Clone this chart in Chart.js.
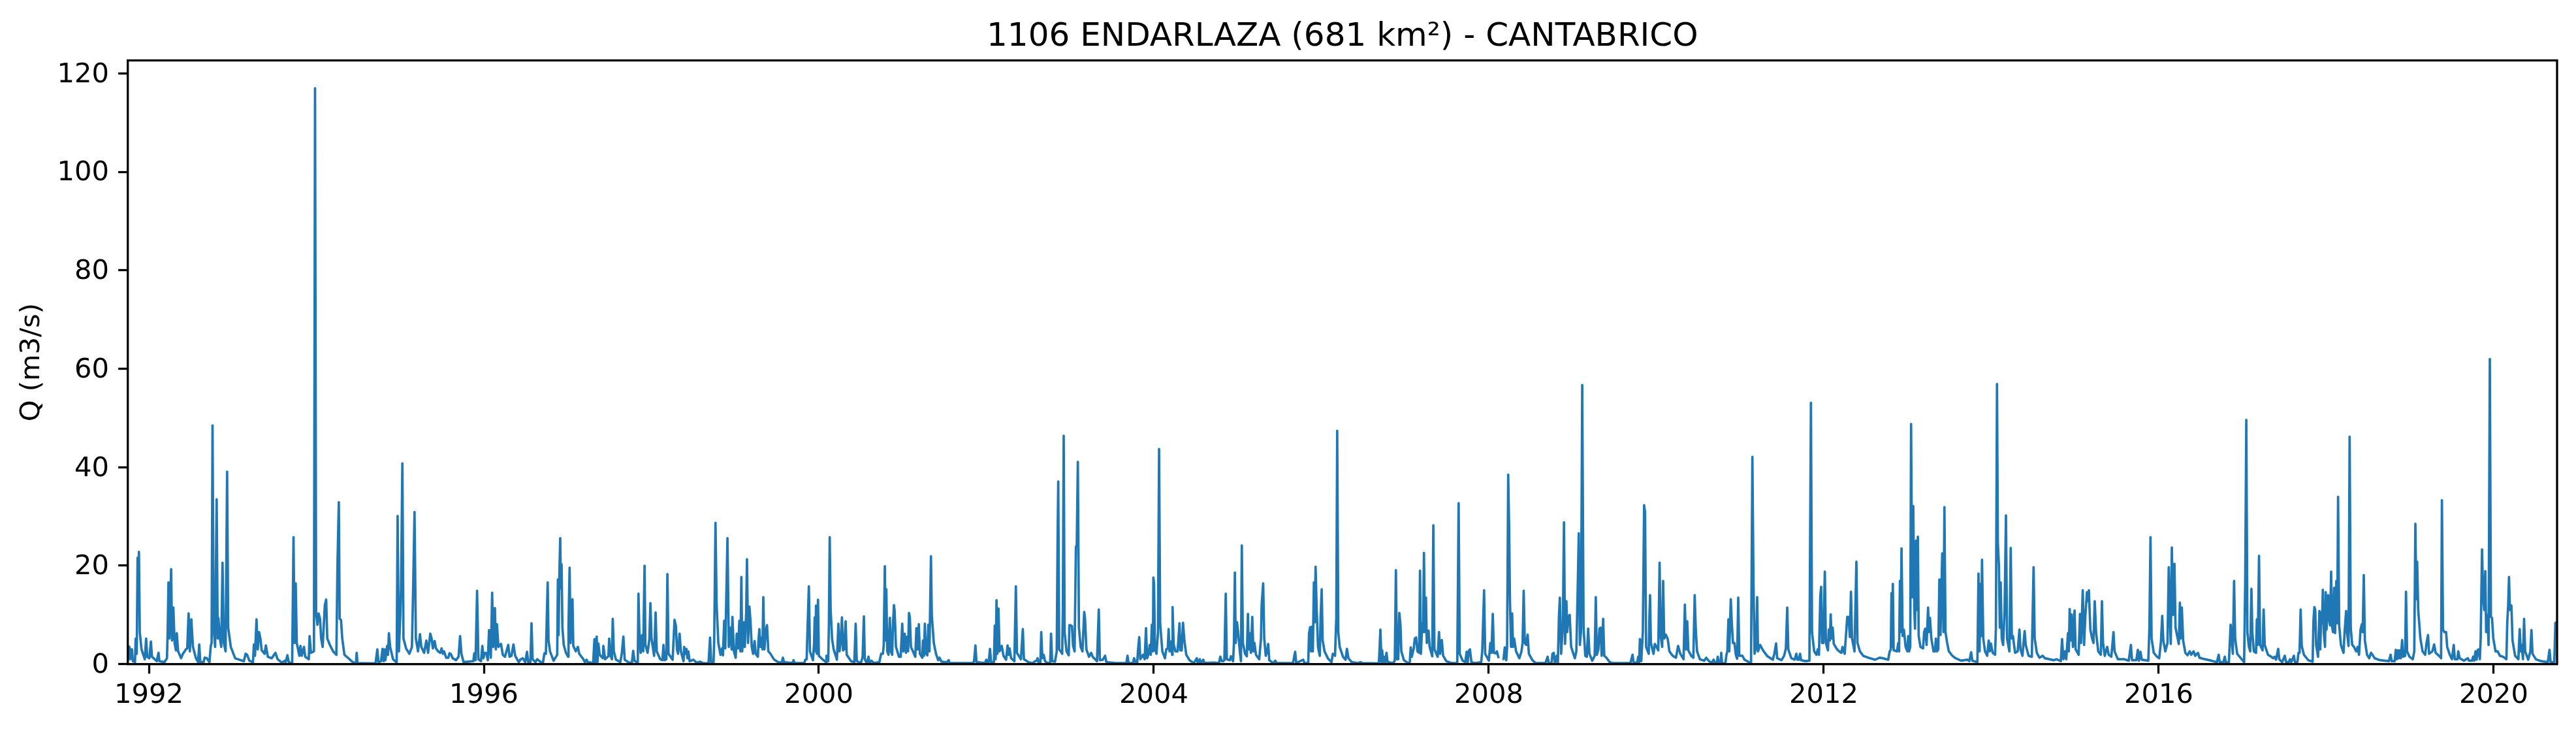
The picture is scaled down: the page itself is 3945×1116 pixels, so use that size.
<!DOCTYPE html>
<html>
<head>
<meta charset="utf-8">
<title>1106 ENDARLAZA</title>
<script src="https://cdn.jsdelivr.net/npm/chart.js@4"></script>
<style>
  html, body { margin: 0; background: #fff; }
  canvas { display: block; }
</style>
</head>
<body>
<canvas id="flowChart" width="3945" height="1116"></canvas>
<script>
// ===== Data (decimal years, m3/s) =====
const dates1 = [1991.748,1991.761,1991.769,1991.777,1991.785,1991.798,1991.808,1991.834,1991.842,1991.855,1991.865,1991.873,1991.881,1991.891,1991.912,1991.951,1991.967,1991.980,1992.006,1992.024,1992.037,1992.094,1992.115,1992.125,1992.185,1992.216,1992.224,1992.234,1992.245,1992.266,1992.276,1992.292,1992.307,1992.323,1992.333,1992.349,1992.385,1992.406,1992.427,1992.442,1992.458,1992.474,1992.489,1992.507,1992.526,1992.562,1992.588,1992.601,1992.614,1992.653,1992.666,1992.692,1992.723,1992.739,1992.749,1992.760,1992.773,1992.791,1992.809,1992.822,1992.830,1992.848,1992.864,1992.879,1992.895,1992.916,1992.934,1992.947,1992.978,1993.030,1993.134,1993.155,1993.173,1993.199,1993.243,1993.254,1993.267,1993.285,1993.300,1993.316,1993.332,1993.347,1993.381,1993.397,1993.420,1993.467,1993.511,1993.537,1993.589,1993.623,1993.633,1993.654,1993.670,1993.711,1993.727,1993.740,1993.753,1993.766,1993.797,1993.810,1993.826,1993.852,1993.867,1993.909,1993.919,1993.935,1993.971,1993.984,1993.997,1994.013,1994.026,1994.044,1994.057,1994.075,1994.101,1994.117,1994.130,1994.161,1994.200,1994.239,1994.252,1994.268,1994.278,1994.294,1994.309,1994.335,1994.382,1994.434,1994.473,1994.481,1994.491,1994.707,1994.728,1994.741,1994.772,1994.790,1994.803,1994.814,1994.824,1994.845,1994.855,1994.866,1994.881,1994.915,1994.959,1994.970,1994.985,1995.001,1995.011,1995.027,1995.040,1995.071,1995.110,1995.141,1995.154,1995.172,1995.188,1995.214,1995.237,1995.253,1995.287,1995.313,1995.334];
const flow1 = [0.6,3.6,3.4,1.0,3.0,3.0,0.6,0.4,5.2,2.1,21.6,14,22.8,6.5,3,1,5.2,1.5,1.2,4.6,1.5,0.6,2.3,0.6,0.4,1.2,6.5,16.6,5.2,19.3,4.8,11.5,4.3,2.8,6.3,2.6,1.2,2.1,2.6,3,3.2,10.3,2.6,9.1,3.5,1.2,0.4,4,0.4,0.4,1.3,1.2,0.4,3.7,4.3,48.5,7.4,3.5,33.5,5.2,9.4,5.2,3.5,20.6,4.3,2.6,39.1,7.4,3.5,1.2,0.6,2.1,1.9,0.7,0.4,4,1.7,9.1,3,6.5,5.2,2.8,2.1,3.8,1.5,1.2,2.3,1,0.3,0.7,0.4,1.8,0.4,0.2,25.8,4.3,16.4,4.3,1.7,3.7,1.7,3.5,1.5,1,5.7,2.3,2.6,117,10.3,8,10.3,9.2,5.2,3.5,12,13.1,5.2,3.9,2.6,1.9,20.3,32.9,9.2,9,5.2,1.9,1.2,0.4,0.2,2.3,0.2,0.15,3,0.4,0.6,3.1,0.6,3,0.8,3.7,1.9,6.3,3.5,1,0.3,30.1,2.6,9.2,15.4,40.8,5.2,3.2,2.1,3.5,14,30.9,5.2,2.6,6.1,3.5,2.3,4.8,2.3];

const dates2 = [1995.360,1995.376,1995.391,1995.412,1995.428,1995.454,1995.480,1995.495,1995.511,1995.524,1995.550,1995.576,1995.589,1995.605,1995.628,1995.667,1995.698,1995.716,1995.732,1995.758,1995.875,1995.885,1995.901,1995.919,1995.935,1995.966,1995.982,1995.995,1996.010,1996.031,1996.047,1996.062,1996.083,1996.099,1996.112,1996.132,1996.143,1996.156,1996.174,1996.205,1996.226,1996.252,1996.291,1996.307,1996.330,1996.353,1996.374,1996.416,1996.434,1996.465,1996.494,1996.515,1996.530,1996.556,1996.569,1996.582,1996.616,1996.637,1996.681,1996.707,1996.723,1996.741,1996.762,1996.772,1996.790,1996.832,1996.876,1996.884,1996.892,1996.902,1996.912,1996.920,1996.928,1996.938,1996.954,1996.980,1997.006,1997.011,1997.024,1997.035,1997.058,1997.068,1997.097,1997.123,1997.139,1997.188,1997.206,1997.227,1997.240,1997.305,1997.321,1997.331,1997.347,1997.357,1997.367,1997.383,1997.422,1997.427,1997.448,1997.487,1997.497,1997.513,1997.529,1997.539,1997.552,1997.578,1997.630,1997.648,1997.666,1997.682,1997.734,1997.768,1997.783,1997.799,1997.838,1997.846,1997.856,1997.872,1997.890,1997.903,1997.919,1997.929,1997.955,1997.976,1997.989,1998.002,1998.033,1998.051,1998.064,1998.106,1998.132,1998.145,1998.158,1998.179,1998.192,1998.205,1998.254,1998.277,1998.293,1998.306,1998.319,1998.337,1998.353,1998.384,1998.392,1998.407,1998.418,1998.431,1998.441,1998.457,1998.501,1998.540,1998.579,1998.618,1998.683,1998.701,1998.714,1998.743,1998.751,1998.766,1998.779,1998.800,1998.826,1998.844,1998.855,1998.870,1998.883,1998.909,1998.925,1998.946,1998.959];
const flow2 = [6.2,5.2,3.2,4.7,3.2,2.6,2.3,3.2,2.1,2.6,1.3,1.3,2.2,2.1,1.2,0.8,1.5,5.7,2.1,0.4,0.6,2.2,0.8,14.9,1,0.6,3.7,1.2,2.3,2.2,0.8,6.9,1.3,14.5,3.5,11.4,3,8.1,3.5,4.1,1.9,1.5,3.9,1.5,1.7,4,1.7,0.4,0.9,1.2,0.4,2.5,0.4,0.4,8.3,1,0.4,1,0.4,0.4,2.2,2.1,16.6,4.8,2.6,0.7,1.9,17.2,5.9,18.7,25.6,15.4,20.3,7.4,3.9,2.3,1.5,7.9,19.6,4.3,13.2,3.7,2.6,3.5,2.1,1,0.4,0.9,0.4,0.2,5.1,0.4,5.6,0.4,4.2,1.9,1.2,3.7,1,1.6,5.2,1.7,1,9.2,2.6,0.9,0.4,2.3,5.6,0.9,0.3,0.3,2.7,0.7,0.2,14.3,7,2.3,5.9,2.6,20,3.9,2.3,5,12.4,5.2,1.7,10.5,2.6,1,0.8,3.9,0.8,1,18.3,2.1,0.9,9,7.8,3,2.1,6.2,2.6,0.6,3.5,2.1,3.1,1.2,2.6,0.6,0.9,0.3,0.5,0.2,0.15,5.4,0.4,0.4,5.2,28.7,12.3,4.3,1.9,3.2,1.8,8.8,3.2,25.6,3.5,7.4,3];

const dates3 = [1998.968,1998.986,1999.007,1999.020,1999.038,1999.051,1999.064,1999.075,1999.085,1999.106,1999.116,1999.132,1999.142,1999.155,1999.171,1999.184,1999.199,1999.215,1999.233,1999.246,1999.272,1999.280,1999.290,1999.303,1999.319,1999.327,1999.337,1999.350,1999.366,1999.381,1999.397,1999.423,1999.462,1999.514,1999.558,1999.571,1999.584,1999.683,1999.699,1999.709,1999.826,1999.839,1999.855,1999.865,1999.881,1999.894,1999.930,1999.943,1999.951,1999.961,1999.966,1999.977,1999.990,2000.000,2000.042,2000.086,2000.091,2000.112,2000.120,2000.130,2000.141,2000.159,2000.177,2000.216,2000.234,2000.247,2000.263,2000.276,2000.289,2000.302,2000.320,2000.333,2000.385,2000.424,2000.440,2000.453,2000.502,2000.523,2000.538,2000.549,2000.572,2000.593,2000.606,2000.629,2000.658,2000.723,2000.744,2000.765,2000.775,2000.788,2000.798,2000.806,2000.817,2000.832,2000.848,2000.861,2000.876,2000.884,2000.897,2000.905,2000.921,2000.957,2000.978,2000.996,2001.009,2001.025,2001.040,2001.056,2001.066,2001.077,2001.087,2001.100,2001.152,2001.165,2001.181,2001.194,2001.207,2001.235,2001.243,2001.256,2001.266,2001.279,2001.295,2001.308,2001.321,2001.339,2001.349,2001.373,2001.399,2001.425,2001.441,2001.464,2001.508,2001.529,2001.550,2001.563,2001.841,2001.854,2001.870,2001.883,2001.984,2002.000,2002.013,2002.028,2002.044,2002.057,2002.091,2002.101,2002.111,2002.122,2002.132,2002.145,2002.158,2002.184,2002.205,2002.236,2002.254,2002.265,2002.278,2002.296,2002.335,2002.353,2002.366,2002.413,2002.436,2002.449,2002.504,2002.556,2002.582];
const flow3 = [9.6,2.6,1.3,6.2,3.2,8.8,2.6,17.7,2.6,8.5,3.5,10.3,21.3,4.3,11.7,8.8,3.5,2.1,4.7,2.1,1.5,5,7.1,3.5,5.4,3,13.6,3,6.5,7.9,2.6,2.1,1,0.4,0.3,1.3,0.4,0.2,0.8,0.2,0.2,0.9,1,7.2,15.8,2.6,0.8,4.1,9.5,2.6,11.9,2.1,13.1,1.7,1,0.4,1.7,0.6,7.9,25.8,11,5,3,0.9,8.2,2.6,4.8,9.5,2.8,3,8.7,1.9,0.6,0.4,8.2,0.6,0.2,1.5,9.7,1,0.2,1.5,0.2,0.7,0.2,0.4,2.1,2.1,3.9,19.9,4.8,15.2,2.6,1.9,9.4,2.6,1.9,7.4,12,10.8,3.5,1.5,1.5,8.2,2.6,6.2,2.3,5.6,2.6,10.4,9.4,3.5,1.5,7.3,3,8.1,2.1,1.3,4.8,1.7,8.2,2.3,1.8,8,2.6,21.9,10,4.3,2.1,0.8,1.3,0.5,0.4,0.4,0.8,0.2,0.2,0.6,3.8,0.4,0.2,0.9,0.2,0.4,3.1,0.4,0.4,7.8,1,13,2.1,11.3,2.6,3.7,1.7,0.9,3.8,1.9,3.2,1.2,0.6,15.8,2.3,1,7.1,1,0.4,0.2,0.6];

const dates4 = [2002.602,2002.612,2002.628,2002.646,2002.656,2002.669,2002.685,2002.701,2002.737,2002.763,2002.773,2002.786,2002.820,2002.841,2002.851,2002.859,2002.870,2002.888,2002.906,2002.914,2002.924,2002.935,2002.958,2002.984,2002.992,2003.007,2003.023,2003.036,2003.054,2003.070,2003.080,2003.093,2003.106,2003.127,2003.148,2003.169,2003.179,2003.195,2003.226,2003.252,2003.270,2003.322,2003.343,2003.356,2003.392,2003.418,2003.434,2003.543,2003.673,2003.686,2003.699,2003.751,2003.764,2003.782,2003.803,2003.811,2003.826,2003.839,2003.871,2003.891,2003.907,2003.920,2003.938,2003.951,2003.964,2003.977,2003.990,2003.995,2004.003,2004.014,2004.032,2004.050,2004.063,2004.076,2004.102,2004.133,2004.149,2004.167,2004.177,2004.188,2004.203,2004.219,2004.224,2004.237,2004.258,2004.284,2004.307,2004.318,2004.333,2004.349,2004.365,2004.388,2004.427,2004.479,2004.513,2004.526,2004.549,2004.562,2004.591,2004.604,2004.713,2004.778,2004.794,2004.812,2004.827,2004.843,2004.859,2004.872,2004.908,2004.921,2004.947,2004.957,2004.968,2004.978,2004.994,2005.007,2005.030,2005.041,2005.051,2005.064,2005.090,2005.111,2005.124,2005.134,2005.145,2005.160,2005.176,2005.189,2005.202,2005.220,2005.259,2005.280,2005.288,2005.306,2005.319,2005.337,2005.355,2005.366,2005.379,2005.428,2005.451,2005.467,2005.662,2005.688,2005.701,2005.784,2005.800,2005.844,2005.854,2005.867,2005.878,2005.888,2005.899,2005.912,2005.922,2005.932,2005.943,2005.961,2005.982,2005.992,2006.005,2006.016,2006.039,2006.078,2006.122,2006.138,2006.164,2006.179,2006.190,2006.203];
const flow4 = [0.7,1.2,0.2,0.4,6.5,1.2,1.9,0.6,0.15,0.4,6.2,0.6,0.5,2.6,24.9,37.1,3,2.6,2.1,11,46.4,6.5,2.6,1.8,7.9,7.9,7.7,3.7,2.6,23.8,24.2,41.1,7.4,3.5,2.6,10.6,9.2,3,1.5,2.3,1.5,0.6,11.1,0.8,0.9,1.7,0.4,0.2,0.2,1.7,0.2,0.2,1.2,0.4,0.4,2.8,5.5,1,1.9,1,7.3,1.2,2.1,3.9,1.9,8,2.6,17.6,16.3,3,2.1,6.5,43.7,8.3,2.6,1.2,3,3.2,7.1,2.6,4.6,1.9,11.6,4.1,2.6,2.6,8.3,2.8,2.8,8.4,4.8,1.9,0.8,0.2,1.2,0.2,1,0.2,0.9,0.2,0.3,0.2,1.5,0.6,0.6,0.8,14.3,1,0.8,1.6,0.6,4.3,18.6,4.3,8.5,6.5,2.1,0.6,24.1,4.3,2.1,1.6,10.2,3,6.3,2.3,9.6,2.6,4.3,1.9,1,5.2,12.1,16.4,5.2,1.7,2.8,4.1,0.8,0.2,0.7,0.2,0.2,2.5,0.2,0.9,0.2,0.2,6.3,7.5,2.6,7.6,2.6,16.6,8.5,19.8,12.3,3.5,1.7,9.6,15.2,4.8,2.6,1.2,0.4,2.1,1.7,9.2,47.4,6.5];

const dates5 = [2006.220,2006.259,2006.290,2006.306,2006.324,2006.363,2006.441,2006.467,2006.493,2006.688,2006.706,2006.719,2006.727,2006.737,2006.748,2006.763,2006.779,2006.792,2006.857,2006.878,2006.891,2006.904,2006.919,2006.932,2006.945,2006.956,2006.987,2007.039,2007.057,2007.068,2007.081,2007.104,2007.117,2007.133,2007.148,2007.169,2007.179,2007.190,2007.205,2007.216,2007.226,2007.237,2007.250,2007.260,2007.281,2007.294,2007.325,2007.338,2007.351,2007.390,2007.406,2007.419,2007.439,2007.455,2007.494,2007.559,2007.624,2007.640,2007.653,2007.689,2007.720,2007.736,2007.749,2007.759,2007.775,2007.793,2007.845,2007.910,2007.923,2007.944,2007.957,2008.001,2008.019,2008.032,2008.048,2008.061,2008.084,2008.097,2008.118,2008.145,2008.175,2008.191,2008.209,2008.219,2008.232,2008.243,2008.253,2008.266,2008.279,2008.290,2008.303,2008.326,2008.365,2008.391,2008.404,2008.417,2008.430,2008.448,2008.464,2008.479,2008.521,2008.560,2008.677,2008.703,2008.716,2008.750,2008.760,2008.776,2008.789,2008.812,2008.825,2008.838,2008.849,2008.864,2008.885,2008.898,2008.911,2008.927,2008.937,2008.950,2008.966,2008.984,2009.028,2009.046,2009.062,2009.075,2009.088,2009.101,2009.116,2009.132,2009.153,2009.171,2009.187,2009.202,2009.236,2009.265,2009.278,2009.291,2009.309,2009.322,2009.335,2009.348,2009.366,2009.379,2009.405,2009.444,2009.483,2009.691,2009.717,2009.730,2009.774,2009.785,2009.795,2009.805,2009.821];
const flow5 = [3.5,1.5,0.9,3.1,1.2,0.4,0.2,0.4,0.2,0.15,7,0.4,2.8,0.4,1.5,0.4,2.3,0.4,0.2,0.7,19.1,1,1,10.4,8.1,2.6,0.8,0.2,0.4,3.4,1.5,3.2,5.2,5.4,2.6,2.3,19,2.1,8.3,6.5,22.6,6.5,13.5,4.3,6.8,3.5,1.6,28.2,3,1.5,6.5,2.1,4.9,1.7,0.6,0.2,0.2,32.7,2.1,0.7,0.4,2.5,0.4,2.6,3,0.4,0.2,0.4,2.9,15,2.1,0.7,4.3,2.3,10.2,2.3,2.2,2.6,1.2,null,0.8,3.4,0.8,3.5,38.5,27.8,13,3.5,10.3,3.5,5.2,2.6,1.2,2.6,4.3,14.9,4.3,3.9,6,2.1,0.8,0.2,0.2,1.5,0.2,0.2,2.1,2.3,0.2,1.7,0.2,9.6,13.5,2.1,7.9,28.8,4.1,12.8,6.5,9.6,10,3.5,1.2,2.6,15.4,26.6,3.9,6.5,56.7,7.4,1.7,1.5,7.2,2.1,0.7,1.7,13.6,1.9,3,7.2,7.4,1.7,9.2,1.7,1.3,0.4,0.2,0.2,1.9,0.2,0.4,1.5,0.4,5.1,0.6];

const dates6 = [2009.840,2009.855,2009.866,2009.879,2009.910,2009.918,2009.926,2009.936,2009.967,2009.983,2010.004,2010.024,2010.040,2010.053,2010.071,2010.082,2010.095,2010.113,2010.136,2010.157,2010.196,2010.235,2010.261,2010.287,2010.326,2010.342,2010.355,2010.370,2010.383,2010.417,2010.443,2010.459,2010.472,2010.487,2010.521,2010.573,2010.596,2010.625,2010.664,2010.685,2010.703,2010.724,2010.734,2010.747,2010.768,2010.776,2010.786,2010.825,2010.838,2010.849,2010.862,2010.872,2010.890,2010.901,2010.916,2010.934,2010.950,2010.966,2010.979,2010.992,2011.028,2011.054,2011.106,2011.132,2011.148,2011.161,2011.174,2011.192,2011.205,2011.215,2011.241,2011.275,2011.327,2011.392,2011.410,2011.431,2011.444,2011.496,2011.527,2011.548,2011.564,2011.577,2011.613,2011.652,2011.673,2011.686,2011.704,2011.717,2011.730,2011.782,2011.829,2011.847,2011.860,2011.886,2011.912,2011.928,2011.943,2011.959,2011.969,2011.980,2011.995,2012.013,2012.026,2012.050,2012.060,2012.073,2012.083,2012.094,2012.107,2012.120,2012.159,2012.185,2012.211,2012.224,2012.250,2012.281,2012.297,2012.312,2012.325,2012.338,2012.367,2012.390,2012.403,2012.432,2012.471,2012.536,2012.614,2012.666,2012.705,2012.770,2012.786,2012.801,2012.809,2012.817,2012.825,2012.835,2012.874,2012.890,2012.900,2012.910,2012.918,2012.929,2012.942,2012.957,2012.978,2012.999,2013.009,2013.020,2013.033,2013.043,2013.056,2013.069,2013.082,2013.090,2013.103,2013.113,2013.124,2013.134,2013.155,2013.186,2013.199,2013.212,2013.228,2013.246,2013.256,2013.269,2013.285,2013.311,2013.329,2013.339,2013.352,2013.368,2013.381,2013.394,2013.415,2013.430,2013.441,2013.454];
const flow6 = [6.5,32.3,30.9,3.5,2.1,9.2,14,4.3,2.1,4.1,3.5,2.8,20.6,5.7,3.5,16.9,5.2,6,5.2,2.6,1.7,1.3,3.7,2.1,1,12.1,3,8.7,2.8,1.7,1.3,14,7,2.6,1,0.7,1.3,0.7,0.2,0.9,0.2,0.2,1.5,0.15,0.15,2.3,0.15,0.15,1.9,2.6,9.1,2.6,13.2,8.8,4.3,4.3,1.9,1.1,13.5,1.7,1.7,0.9,0.4,0.2,42.1,16.6,2.1,3.5,13.6,2.6,3.9,2.8,1.6,0.9,2.1,4.2,1.2,0.8,1.7,3.2,11.5,3,1.2,0.9,2.1,0.9,0.9,2.1,0.8,0.6,0.7,53.1,6.5,2.6,1.9,3,1.9,13.8,15.7,4.3,4.3,18.8,4.3,2.8,7,4.8,10.1,5.2,7.4,4.1,3,2.6,2.3,3.5,2.1,9.6,9.6,5.5,14.7,5.2,2.6,20.8,4.3,2.6,1.7,1.3,0.9,1.3,1.2,0.9,2.5,3,14.4,3.5,16.3,2.8,2.6,4.3,2.6,16.9,6.5,23.5,5.7,7,3.5,2.6,5.7,2.6,3.5,48.8,13.6,32.1,11,7.2,25.1,11,25.9,5.7,3.5,3.2,6.5,7.2,3.9,11.5,6.5,9.4,5.2,2.6,2.6,5.2,2.6,3,17.2,5.9,22.5,6.5,31.9,6.5];

const dates7 = [2013.474,2013.494,2013.536,2013.575,2013.640,2013.718,2013.739,2013.760,2013.775,2013.835,2013.848,2013.861,2013.871,2013.879,2013.890,2013.905,2013.926,2013.952,2013.970,2013.983,2013.996,2014.017,2014.046,2014.056,2014.069,2014.079,2014.092,2014.103,2014.113,2014.126,2014.142,2014.160,2014.176,2014.189,2014.217,2014.233,2014.246,2014.259,2014.285,2014.316,2014.337,2014.350,2014.373,2014.399,2014.412,2014.446,2014.485,2014.506,2014.519,2014.545,2014.576,2014.615,2014.641,2014.693,2014.745,2014.779,2014.831,2014.846,2014.862,2014.880,2014.896,2014.917,2014.927,2014.937,2014.948,2014.961,2014.976,2014.995,2015.008,2015.044,2015.060,2015.073,2015.093,2015.109,2015.122,2015.143,2015.153,2015.166,2015.184,2015.205,2015.221,2015.236,2015.252,2015.278,2015.309,2015.322,2015.335,2015.356,2015.385,2015.403,2015.434,2015.460,2015.473,2015.512,2015.590,2015.642,2015.668,2015.681,2015.733,2015.751,2015.764,2015.782,2015.798,2015.876,2015.889,2015.902,2015.915,2015.941,2015.980,2016.006,2016.027,2016.042,2016.055,2016.079,2016.105,2016.120,2016.131,2016.144,2016.157,2016.170,2016.188,2016.201,2016.227,2016.240,2016.253,2016.263,2016.276,2016.292,2016.318,2016.344,2016.370,2016.388,2016.417,2016.435,2016.469,2016.487,2016.552,2016.630,2016.695,2016.716,2016.729,2016.773,2016.789,2016.802,2016.838,2016.859,2016.874,2016.885,2016.900,2016.913,2016.937,2016.981,2017.020,2017.033,2017.046,2017.059,2017.077,2017.093];
const flow7 = [4.3,2.6,1.7,1.2,0.7,0.9,0.6,2.4,0.7,0.4,18.4,2.6,16.3,5.7,21.2,5.2,2.6,1.7,4.8,2.6,4.2,2.3,1.9,7.4,56.9,24.7,20,7.4,16.6,5.2,3.9,11,30.2,5.2,2.6,23.6,5.2,5.7,2.3,2.6,7,3,1.7,6.7,3.9,1.7,1.5,19.7,5.2,2.3,1.3,1.7,1.2,1,0.8,1,0.6,5.1,1,2.6,1,6.3,2.6,11.2,4.8,10.1,3.5,10.9,3,1.9,10.2,4.3,15,3.9,9.2,14.6,12.8,15,7,5.2,4.3,12.8,6.5,2.6,1.9,12.8,4.3,1.7,3.5,1.9,1.5,6.5,2.6,1,1,0.7,3.9,0.8,0.8,2.9,0.7,2.5,0.9,0.7,7.4,25.8,5.2,2.3,1.5,1.2,4.6,9.8,4.8,2.6,4.3,19.7,11,4.1,23.7,10,20.4,7.4,5.2,4.1,12.5,5.2,11.5,4.8,2.3,1.8,2.6,1.9,2.6,1.7,2.3,1.3,1,0.7,0.4,1.9,0.4,0.4,1.5,0.3,0.4,8,4.3,2.1,16.9,5.2,2.1,1.2,0.4,16.4,49.6,6.5,3.5,2.6];

const dates8 = [2017.107,2017.118,2017.136,2017.162,2017.172,2017.183,2017.198,2017.211,2017.240,2017.253,2017.266,2017.305,2017.344,2017.365,2017.383,2017.401,2017.427,2017.440,2017.474,2017.505,2017.521,2017.552,2017.568,2017.583,2017.614,2017.627,2017.656,2017.669,2017.682,2017.695,2017.708,2017.734,2017.786,2017.838,2017.848,2017.859,2017.869,2017.880,2017.903,2017.919,2017.929,2017.942,2017.950,2017.960,2017.971,2017.986,2017.994,2018.004,2018.023,2018.033,2018.046,2018.059,2018.069,2018.082,2018.095,2018.106,2018.121,2018.132,2018.142,2018.155,2018.176,2018.207,2018.220,2018.238,2018.249,2018.267,2018.280,2018.293,2018.311,2018.332,2018.358,2018.376,2018.392,2018.410,2018.426,2018.436,2018.449,2018.462,2018.488,2018.514,2018.535,2018.553,2018.579,2018.644,2018.748,2018.769,2018.782,2018.818,2018.831,2018.844,2018.857,2018.870,2018.878,2018.891,2018.907,2018.920,2018.943,2018.953,2018.966,2018.995,2019.034,2019.052,2019.065,2019.076,2019.086,2019.099,2019.125,2019.151,2019.182,2019.198,2019.216,2019.229,2019.268,2019.289,2019.307,2019.359,2019.372,2019.382,2019.395,2019.411,2019.432,2019.445,2019.476,2019.502,2019.523,2019.536,2019.567,2019.577,2019.593,2019.645,2019.692,2019.705,2019.741,2019.754,2019.767,2019.783,2019.796,2019.809,2019.822,2019.835,2019.845,2019.861,2019.874,2019.887,2019.900,2019.910,2019.926,2019.939,2019.954,2019.967,2019.980,2019.996,2020.022,2020.048,2020.074,2020.113,2020.152,2020.162,2020.173,2020.183,2020.194,2020.212,2020.225,2020.256,2020.295,2020.311,2020.324,2020.334,2020.350,2020.363,2020.376,2020.412,2020.438,2020.451,2020.464,2020.503,2020.568,2020.646,2020.667,2020.680,2020.724,2020.737,2020.757];
const flow8 = [15.3,6.5,2.6,2.3,9.1,3.9,22,3.9,2.8,11.1,3.9,1.9,1.5,1.2,1.5,0.9,3.1,1,0.4,1.7,0.4,0.4,1,0.4,1.7,0.4,0.4,2.3,2.3,11.1,3.7,1.9,0.8,0.5,8.8,11.6,11,3.9,1.5,10.8,3,10.5,8.3,15.1,6.5,3.5,14.6,7,14,9.2,7.9,18.8,7.7,6.5,15.5,6.3,16.9,8.3,34,7.9,3.9,2.3,6.5,10.8,6.5,3.7,46.2,7.4,3.9,3.5,2.6,3.5,1.9,7,8.1,6.5,18.1,4.8,1.9,1.2,2.3,1.9,1.2,0.8,0.6,1.9,0.6,0.6,2.9,1,2.8,1.2,2.8,1.2,4.9,1.5,1.7,14.7,2.6,1.5,1,2.6,28.5,13.2,20.8,11,5.2,2.6,1.9,4.3,5.9,2.1,2.6,4,2.3,1.5,1.2,33.3,7,6.5,6.5,3.5,1.9,1,3.9,1,1,2.6,1.2,0.7,1.2,0.7,0.7,1.5,0.7,2.6,0.9,2.9,3,1,5.2,23.3,14,11,18.9,6.5,10,3.9,62,9.6,9.4,5.2,2.6,2.6,1.7,1.5,1,8.3,11.9,17.7,11,11.9,4.8,1.7,1,7.1,2.6,3.9,1,9.2,2.6,0.9,2.6,6.9,2.1,1,0.6,0.4,2.9,0.4,0.4,8.4,8.4];

const allDates = [dates1, dates2, dates3, dates4, dates5, dates6, dates7, dates8].flat();
const allFlow = [flow1, flow2, flow3, flow4, flow5, flow6, flow7, flow8].flat();

const yearTicksStep = 4;
const flowTicksStep = 20;
const chartTitle = '1106 ENDARLAZA (681 km²) - CANTABRICO';
const yAxisLabel = 'Q (m3/s)';

// ===== Sizes (picture is 300 dpi, so 10pt = 41.67px) =====
const FONT = '"DejaVu Sans"';
const TICK_FONT = 41.67;
const TITLE_FONT = 50;
const LINE_W = 3.7;

// Axes box like matplotlib spines, over the line
const spinesPlugin = {
  id: 'spines',
  afterDatasetsDraw(chart) {
    const { ctx, chartArea: a } = chart;
    ctx.save();
    ctx.strokeStyle = '#000';
    ctx.lineWidth = 3.3;
    ctx.strokeRect(a.left, a.top, a.right - a.left, a.bottom - a.top);
    ctx.restore();
  }
};

new Chart(document.getElementById('flowChart'), {
  type: 'line',
  data: {
    datasets: [{
      data: allDates.map((d, i) => ({ x: d, y: allFlow[i] })),
      borderColor: '#1f77b4',
      borderWidth: LINE_W,
      borderJoinStyle: 'round',
      pointRadius: 0,
      tension: 0,
      fill: false,
      spanGaps: false
    }]
  },
  options: {
    responsive: false,
    devicePixelRatio: 1,
    animation: false,
    layout: { padding: { left: 0, right: 29, top: 0, bottom: 0 } },
    plugins: {
      legend: { display: false },
      tooltip: { enabled: false },
      title: {
        display: true,
        text: chartTitle,
        fullSize: false,
        color: '#000',
        font: { family: FONT, size: TITLE_FONT, weight: 'normal' },
        padding: { top: 27, bottom: 5.5 }
      }
    },
    scales: {
      x: {
        type: 'linear',
        min: 1991.748,
        max: 2020.757,
        afterFit(scale) { scale.height = 99.3; },
        border: { display: false },
        grid: { drawOnChartArea: false, drawTicks: true, tickLength: 14.6, tickWidth: 3.3, tickColor: '#000' },
        ticks: {
          stepSize: yearTicksStep,
          includeBounds: false,
          autoSkip: false,
          maxRotation: 0,
          padding: 8.5,
          color: '#000',
          font: { family: FONT, size: TICK_FONT },
          callback: value => String(value)
        }
      },
      y: {
        min: 0,
        max: 122.65,
        afterFit(scale) { scale.width = 195.7; },
        border: { display: false },
        grid: { drawOnChartArea: false, drawTicks: true, tickLength: 14.6, tickWidth: 3.3, tickColor: '#000' },
        title: {
          display: true,
          text: yAxisLabel,
          color: '#000',
          font: { family: FONT, size: TICK_FONT },
          padding: { top: 24, bottom: 0 }
        },
        ticks: {
          stepSize: flowTicksStep,
          includeBounds: false,
          padding: 14,
          labelOffset: 2.5,
          color: '#000',
          font: { family: FONT, size: TICK_FONT },
          callback: value => String(value)
        }
      }
    }
  },
  plugins: [spinesPlugin]
});
</script>
</body>
</html>
